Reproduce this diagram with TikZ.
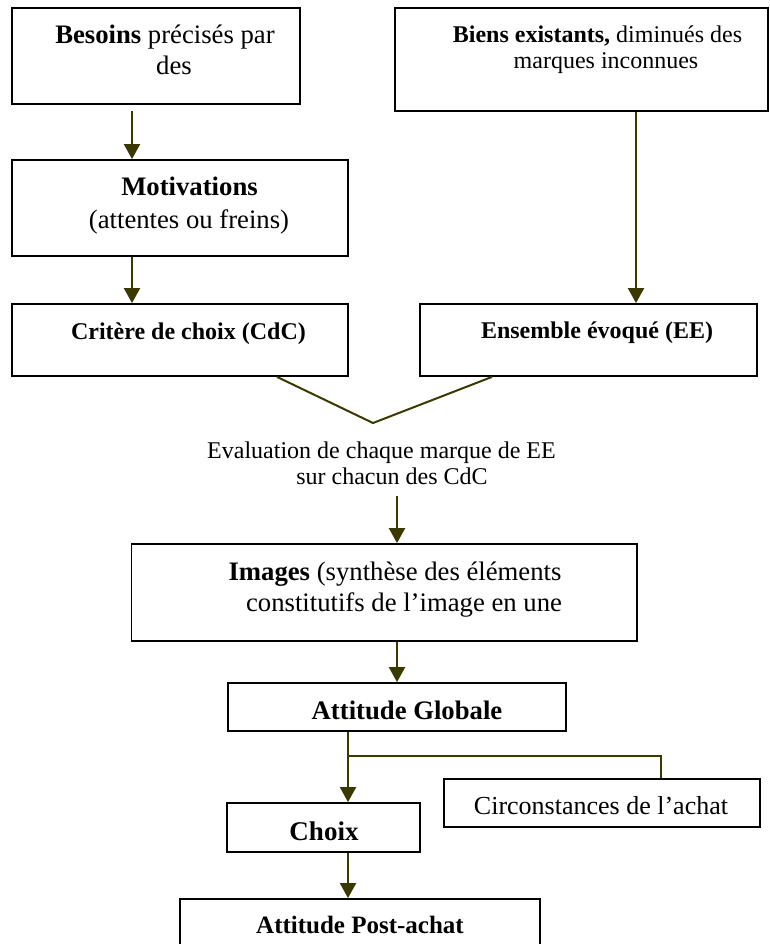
\documentclass[tikz,border=0pt]{standalone}
\usepackage{fontspec}
\setmainfont{Liberation Serif}
\usetikzlibrary{arrows.meta}
\definecolor{linkcol}{RGB}{58,58,0}
\tikzset{
  box/.style={draw=black, line width=1.8pt, rectangle, inner sep=0pt},
  lbl/.style={anchor=base, inner sep=0pt, font=\fontsize{26.7}{32}\selectfont},
  lbls/.style={lbl, font=\fontsize{24}{28}\selectfont},
  link/.style={draw=linkcol, line width=2pt},
  arr/.style={link, -{Triangle[length=15pt,width=16pt]}},
}
\begin{document}
\begin{tikzpicture}[x=1pt,y=-1pt]
\useasboundingbox (0,0) rectangle (769,944);

% frames
\node[box, minimum width=288pt, minimum height=96pt]  (besoins)  at (156,56) {};
\node[box, minimum width=373pt, minimum height=103pt] (biens)    at (581.5,59.5) {};
\node[box, minimum width=336pt, minimum height=96pt]  (motiv)    at (180,208) {};
\node[box, minimum width=336pt, minimum height=72pt]  (critere)  at (180,340) {};
\node[box, minimum width=337pt, minimum height=72pt]  (ensemble) at (588.5,340) {};
\node[box, minimum width=505.5pt, minimum height=97pt] (images)  at (384.25,592.5) {};
\node[box, minimum width=338pt, minimum height=48pt]  (globale)  at (397,707) {};
\node[box, minimum width=316pt, minimum height=48pt]  (circ)     at (602,803) {};
\node[box, minimum width=193pt, minimum height=49pt]  (choix)    at (323.5,827.5) {};
\node[box, minimum width=360pt, minimum height=100pt] (post)     at (360,949) {};

% texts
\node[lbl]  (tBes1) at (165,44)    {\textbf{Besoins} précisés par};
\node[lbl]  (tBes2) at (174,75)    {des};
\node[lbl]  (tMot1) at (189.5,195) {\textbf{Motivations}};
\node[lbl]  (tMot2) at (189,228)   {(attentes ou freins)};
\node[lbls] (tCri)  at (188.5,339) {\textbf{Critère de choix (CdC)}};
\node[lbls] (tBie1) at (597.5,43)  {\textbf{Biens existants,} diminués des};
\node[lbls] (tBie2) at (606,69)    {marques inconnues};
\node[lbls] (tEns)  at (597,338)   {\textbf{Ensemble évoqué (EE)}};
\node[lbls] (tEva1) at (381.5,458) {Evaluation de chaque marque de EE};
\node[lbls] (tEva2) at (392,484)   {sur chacun des CdC};
\node[lbl]  (tImg1) at (395,580)   {\textbf{Images} (synthèse des éléments};
\node[lbl]  (tImg2) at (404,611)   {constitutifs de l’image en une};
\node[lbl]  (tGlo)  at (407,719)   {\textbf{Attitude Globale}};
\node[lbl, font=\fontsize{26}{30}\selectfont] (tCir) at (601,814) {Circonstances de l’achat};
\node[lbl, font=\fontsize{27}{30}\selectfont] (tCho) at (324,840) {\textbf{Choix}};
\node[lbl, font=\fontsize{25}{30}\selectfont] (tPos) at (360,933) {\textbf{Attitude Post-achat}};

% connectors
\coordinate (c1) at (132,111);
\draw[arr] (c1) -- (c1 |- motiv.north);
\draw[arr] (motiv.south -| c1) -- (critere.north -| c1);

\coordinate (c2) at (636,0);
\draw[arr] (biens.south -| c2) -- (ensemble.north -| c2);

\coordinate (vl) at (277,0);
\coordinate (vr) at (492,0);
\coordinate (vtip) at (373,423);
\draw[link] (critere.south -| vl) -- (vtip) -- (ensemble.south -| vr);

\coordinate (c3) at (397,496);
\draw[arr] (c3) -- (c3 |- images.north);
\draw[arr] (images.south -| c3) -- (globale.north -| c3);

\coordinate (c4) at (348,756);
\coordinate (c5) at (661,756);
\draw[arr] (globale.south -| c4) -- (choix.north -| c4);
\draw[link] (c4) -- (c5) -- (circ.north -| c5);
\draw[arr] (choix.south -| c4) -- (post.north -| c4);
\end{tikzpicture}
\end{document}
